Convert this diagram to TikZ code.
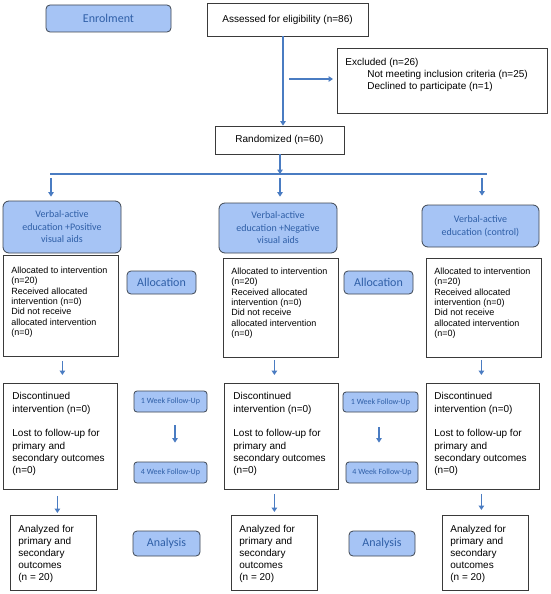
\documentclass[tikz,border=0pt]{standalone}
\usepackage{fontspec}
\usetikzlibrary{arrows.meta}
\newfontfamily\arialf{Liberation Sans}
\newfontfamily\calf{Carlito}
\definecolor{bfill}{HTML}{A6C4F5}
\definecolor{btext}{HTML}{2F5FA7}
\definecolor{bdark}{HTML}{3E4652}
\definecolor{wgray}{HTML}{3A3A3A}
\definecolor{arrc}{HTML}{4A7CC2}
\newcommand{\topbox}[4]{\parbox[c][#2][t]{#1}{\raggedright\vspace*{#3}\strut #4}}
\tikzset{
  wbox/.style={draw=wgray, line width=0.8pt, fill=white, inner ysep=0pt, text=black},
  wplain/.style={draw=wgray, line width=0.8pt, fill=white, inner sep=0pt, text=black, align=center, font=\arialf\fontsize{10}{12}\selectfont},
  bbox/.style={draw=bdark, line width=0.8pt, fill=bfill, rounded corners=6pt, text=btext, align=center, inner sep=0pt},
  grp/.style={bbox, font=\calf\fontsize{10}{12.5}\selectfont},
  lbl/.style={bbox, rounded corners=4pt, font=\calf\fontsize{12}{14}\selectfont},
  fup/.style={bbox, rounded corners=3pt, font=\calf\fontsize{8}{10}\selectfont},
  arr/.style={draw=arrc, line width=1.6pt, -{Triangle[length=4.5pt,width=5.5pt]}},
  ln/.style={draw=arrc, line width=1.6pt},
  allocf/.style={font=\arialf\fontsize{9}{10.33}\selectfont},
  tenf/.style={font=\arialf\fontsize{10}{12.3}\selectfont},
  anf/.style={font=\arialf\fontsize{10}{12}\selectfont},
}
\begin{document}
\begin{tikzpicture}[x=1pt,y=-1pt]
\useasboundingbox (0,0) rectangle (550,594);
\fill[white] (0,0) rectangle (550,594);

% top
\node[lbl, minimum width=125pt, minimum height=27pt] (enrol) at (108.5,18.5) {Enrolment};
\node[wplain, minimum width=161pt, minimum height=33pt] (assess) at (287.5,19.5) {Assessed for eligibility (n=86)};
\node[wbox, inner xsep=8pt, anchor=north west, font=\arialf\fontsize{10}{12}\selectfont] (excl) at (337,48)
  {\topbox{194pt}{65pt}{9pt}{Excluded (n=26)\\\hspace*{22pt}Not meeting inclusion criteria (n=25)\\\hspace*{22pt}Declined to participate (n=1)}};
\node[wplain, minimum width=129pt, minimum height=28pt] (rand) at (279.5,140) {Randomized (n=60)};

\coordinate (exstart) at (289,79);
\coordinate (splitc) at (280,174);
\coordinate (splitl) at (50,174);
\coordinate (splitr) at (487,174);
\coordinate (dl) at (51,178);
\coordinate (dc) at (280,178);
\coordinate (dr) at (482,178);

% groups
\node[grp, minimum width=118pt, minimum height=52pt] (g1) at (62,227) {Verbal-active\\education +Positive\\visual aids};
\node[grp, minimum width=118pt, minimum height=50pt] (g2) at (278,228) {Verbal-active\\education +Negative\\visual aids};
\node[grp, minimum width=117pt, minimum height=42pt] (g3) at (480.5,226) {Verbal-active\\education (control)};

% allocation boxes
\node[wbox, inner xsep=8pt, anchor=north west, allocf] (a1) at (3,255)
  {\topbox{99pt}{101pt}{10.8pt}{Allocated to intervention\\(n=20)\\Received allocated\\intervention (n=0)\\Did not receive\\allocated intervention\\(n=0)}};
\node[wbox, inner xsep=8pt, anchor=north west, allocf] (a2) at (223,258)
  {\topbox{99pt}{99pt}{8.8pt}{Allocated to intervention\\(n=20)\\Received allocated\\intervention (n=0)\\Did not receive\\allocated intervention\\(n=0)}};
\node[wbox, inner xsep=8pt, anchor=north west, allocf] (a3) at (426,258)
  {\topbox{99pt}{99pt}{8.8pt}{Allocated to intervention\\(n=20)\\Received allocated\\intervention (n=0)\\Did not receive\\allocated intervention\\(n=0)}};
\node[lbl, minimum width=69pt, minimum height=23pt] (al1) at (161.5,282.5) {Allocation};
\node[lbl, minimum width=69pt, minimum height=23pt] (al2) at (378.5,282.5) {Allocation};

% discontinued boxes
\node[wbox, inner xsep=9pt, anchor=north west, tenf] (d1) at (3,383)
  {\topbox{96pt}{106pt}{7.8pt}{Discontinued\\intervention (n=0)\\[12.3pt]Lost to follow-up for\\primary and\\secondary outcomes\\(n=0)}};
\node[wbox, inner xsep=9pt, anchor=north west, tenf] (d2) at (224,383)
  {\topbox{96pt}{106pt}{7.8pt}{Discontinued\\intervention (n=0)\\[12.3pt]Lost to follow-up for\\primary and\\secondary outcomes\\(n=0)}};
\node[wbox, inner xsep=8pt, anchor=north west, tenf] (d3) at (426,383)
  {\topbox{97pt}{106pt}{7.8pt}{Discontinued\\intervention (n=0)\\[12.3pt]Lost to follow-up for\\primary and\\secondary outcomes\\(n=0)}};

\node[fup, minimum width=73pt, minimum height=21pt] (w1a) at (170.5,401.5) {1 Week Follow-Up};
\node[fup, minimum width=73pt, minimum height=21pt] (w4a) at (170.5,472.5) {4 Week Follow-Up};
\node[fup, minimum width=75pt, minimum height=20pt] (w1b) at (380.5,402) {1 Week Follow-Up};
\node[fup, minimum width=72pt, minimum height=21pt] (w4b) at (382,472.5) {4 Week Follow-Up};

% analyzed boxes
\node[wbox, inner xsep=8pt, anchor=north west, anf] (n1) at (10,515)
  {\topbox{70pt}{75pt}{9pt}{Analyzed for\\primary and\\secondary\\outcomes\\(n = 20)}};
\node[wbox, inner xsep=8pt, anchor=north west, anf] (n2) at (231,515)
  {\topbox{70pt}{75pt}{9pt}{Analyzed for\\primary and\\secondary\\outcomes\\(n = 20)}};
\node[wbox, inner xsep=8pt, anchor=north west, anf] (n3) at (442,515)
  {\topbox{70pt}{75pt}{9pt}{Analyzed for\\primary and\\secondary\\outcomes\\(n = 20)}};
\node[lbl, minimum width=67pt, minimum height=25pt] (an1) at (166.5,543.5) {Analysis};
\node[lbl, minimum width=66pt, minimum height=25pt] (an2) at (382,543.5) {Analysis};

% connectors
\draw[arr] ([xshift=-4.5pt]assess.south) -- ([xshift=3.5pt]rand.north);
\draw[arr, shorten >=4pt] (exstart) -- (exstart -| excl.west);
\draw[arr] ([xshift=0.5pt]rand.south) -- (splitc);
\draw[ln] (splitl) -- (splitr);
\draw[arr, shorten >=4pt] (dl) -- (dl |- g1.north);
\draw[arr, shorten >=6pt] (dc) -- (dc |- g2.north);
\draw[arr, shorten >=9pt] (dr) -- (dr |- g3.north);

\draw[arr, shorten <=4pt, shorten >=8pt] ([xshift=1.5pt]a1.south) -- ([xshift=1.5pt]a1.south |- d1.north);
\draw[arr, shorten <=2pt, shorten >=8pt] ([xshift=-6.5pt]a2.south) -- ([xshift=-6.5pt]a2.south |- d2.north);
\draw[arr, shorten <=2pt, shorten >=8pt] ([xshift=-2.5pt]a3.south) -- ([xshift=-2.5pt]a3.south |- d3.north);

\draw[arr, shorten <=13pt, shorten >=19pt] ([xshift=4.5pt]w1a.south) -- ([xshift=4.5pt]w1a.south |- w4a.north);
\draw[arr, shorten <=15pt, shorten >=19pt] ([xshift=-1.5pt]w1b.south) -- ([xshift=-1.5pt]w1b.south |- w4b.north);

\draw[arr, shorten <=6pt, shorten >=2pt] ([xshift=-3pt]d1.south) -- ([xshift=-3pt]d1.south |- n1.north);
\draw[arr, shorten <=4pt, shorten >=3pt] ([xshift=-7pt]d2.south) -- ([xshift=-7pt]d2.south |- n2.north);
\draw[arr, shorten <=4pt, shorten >=5pt] ([xshift=-1.5pt]d3.south) -- ([xshift=-1.5pt]d3.south |- n3.north);
\end{tikzpicture}
\end{document}
